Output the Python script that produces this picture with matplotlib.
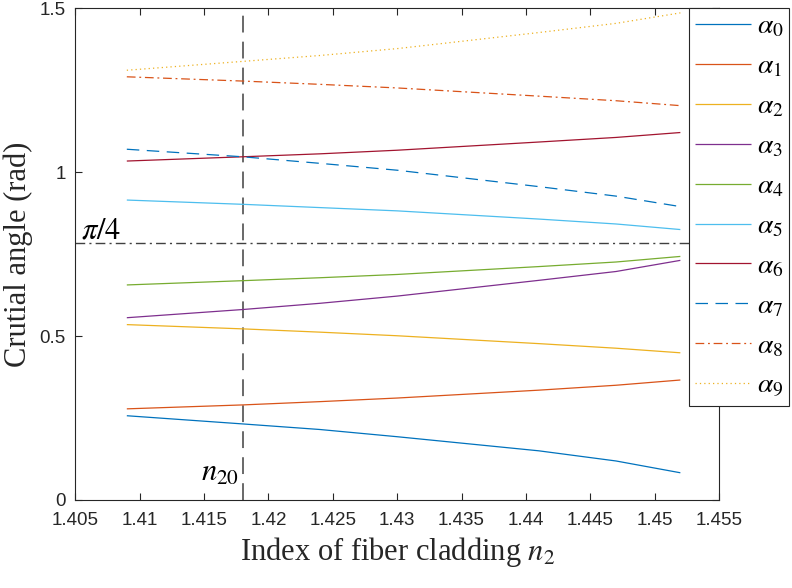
import numpy as np
import matplotlib

matplotlib.use("Agg")
import matplotlib.pyplot as plt

plt.rcParams["mathtext.fontset"] = "stix"
plt.rcParams["font.family"] = ["Liberation Serif", "DejaVu Serif"]

# values
n2 = [1.409, 1.418, 1.424, 1.430, 1.441, 1.447, 1.452]
alpha_vals = [
    [0.257, 0.232, 0.215, 0.193, 0.150, 0.119, 0.083],
    [0.278, 0.290, 0.300, 0.311, 0.335, 0.350, 0.366],
    [0.535, 0.522, 0.512, 0.501, 0.477, 0.463, 0.449],
    [0.556, 0.581, 0.600, 0.622, 0.670, 0.697, 0.731],
    [0.656, 0.669, 0.678, 0.688, 0.712, 0.726, 0.743],
    [0.915, 0.902, 0.892, 0.882, 0.857, 0.842, 0.825],
    [1.034, 1.047, 1.056, 1.067, 1.092, 1.106, 1.121],
    [1.070, 1.047, 1.027, 1.006, 0.956, 0.927, 0.895],
    [1.291, 1.278, 1.268, 1.257, 1.232, 1.218, 1.203],
    [1.311, 1.338, 1.356, 1.377, 1.426, 1.454, 1.486],
]
labels = [r"$\alpha_{%d}$" % i for i in range(10)]
n20 = 1.418
quarter_pi = np.pi / 4

xticks = [1.405, 1.41, 1.415, 1.42, 1.425, 1.43, 1.435, 1.44, 1.445, 1.45, 1.455]
xtick_labels = ["1.405", "1.41", "1.415", "1.42", "1.425", "1.43", "1.435",
                "1.44", "1.445", "1.45", "1.455"]
yticks = [0, 0.5, 1, 1.5]
ytick_labels = ["0", "0.5", "1", "1.5"]

colors = ["#0072BD", "#D95319", "#EDB120", "#7E2F8E", "#77AC30",
          "#4DBEEE", "#A2142F", "#0072BD", "#D95319", "#EDB120"]
styles = [(0, ())] * 7 + [(0, (10, 6)), (0, (7, 3, 1.5, 3)), (0, (1, 2.5))]

fig = plt.figure(figsize=(7.92, 5.88), dpi=100)
ax = fig.add_axes([0.0951, 0.1497, 0.8127, 0.8362])

axis_grey = "#262626"
ax.axvline(n20, color="#404040", lw=1.1, linestyle=(0, (11, 6)))
ax.axhline(quarter_pi, color="#404040", lw=1.0, linestyle=(0, (7, 3, 1.5, 3)))

for vals, lab, c, ls in zip(alpha_vals, labels, colors, styles):
    ax.plot(n2, vals, color=c, lw=0.9, linestyle=ls, label=lab)

ax.text(1.40544, 0.797, r"$\pi/4$", fontsize=22, ha="left", va="baseline")
ax.text(1.41772, 0.058, r"$n_{20}$", fontsize=22, ha="right", va="baseline")

ax.set_xlim(1.405, 1.455)
ax.set_ylim(0, 1.5)
ax.set_xticks(xticks, labels=xtick_labels)
ax.set_yticks(yticks, labels=ytick_labels)
for lab in ax.get_xticklabels() + ax.get_yticklabels():
    lab.set_fontfamily("Liberation Sans")
    lab.set_fontsize(13.5)
    lab.set_color(axis_grey)
ax.tick_params(axis="both", direction="in", length=5, width=0.8,
               colors=axis_grey, top=True, right=True)
ax.tick_params(axis="x", pad=9)
ax.tick_params(axis="y", pad=7)
for sp in ax.spines.values():
    sp.set_color(axis_grey)
    sp.set_linewidth(0.8)

ax.set_xlabel(r"Index of fiber cladding $n_2$", fontsize=22, labelpad=4, color=axis_grey)
ax.set_ylabel("Crutial angle (rad)", fontsize=22, labelpad=4.5, color=axis_grey)

leg = ax.legend(loc="upper left", bbox_to_anchor=(0.954, 1.0), borderaxespad=0,
                fontsize=20, handlelength=2.0, handletextpad=0.2,
                labelspacing=0.52, borderpad=0.22, fancybox=False,
                framealpha=1, edgecolor=axis_grey)
leg.get_frame().set_linewidth(0.8)

fig.savefig("out.png", dpi=100)
